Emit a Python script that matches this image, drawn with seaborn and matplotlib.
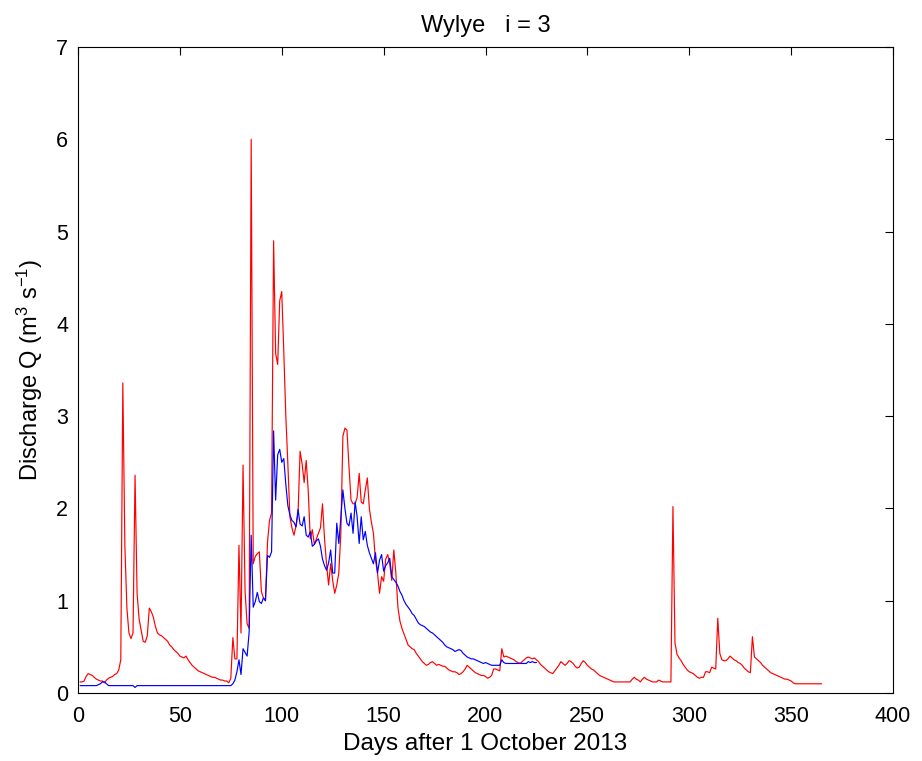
import numpy as np
import pandas as pd
import matplotlib
matplotlib.use("Agg")
import matplotlib.pyplot as plt
import seaborn as sns

# ---------------- data ----------------
title = "Wylye   i = 3"
xlabel = "Days after 1 October 2013"
ylabel = "Discharge Q (m$^3$ s$^{-1}$)"

red_q = [
    0.12, 0.12, 0.13, 0.18, 0.21, 0.20, 0.19, 0.17, 0.15, 0.14,
    0.13, 0.13, 0.11, 0.14, 0.16, 0.17, 0.18, 0.20, 0.21, 0.25,
    0.36, 3.36, 1.60, 0.92, 0.65, 0.59, 0.65, 2.36, 1.08, 0.80,
    0.68, 0.56, 0.55, 0.62, 0.92, 0.88, 0.82, 0.72, 0.65, 0.63,
    0.62, 0.60, 0.58, 0.56, 0.52, 0.50, 0.47, 0.45, 0.43, 0.40,
    0.39, 0.38, 0.40, 0.36, 0.33, 0.30, 0.28, 0.26, 0.24, 0.23,
    0.22, 0.21, 0.20, 0.19, 0.18, 0.17, 0.17, 0.16, 0.15, 0.14,
    0.14, 0.13, 0.13, 0.11, 0.16, 0.60, 0.37, 0.37, 1.60, 0.65,
    2.47, 1.10, 0.75, 0.70, 6.00, 1.40, 1.48, 1.51, 1.53, 1.10,
    1.03, 1.00, 1.63, 1.87, 1.95, 4.90, 3.68, 3.56, 4.25, 4.35,
    3.70, 3.00, 2.48, 1.91, 1.79, 1.71, 1.81, 1.95, 2.62, 2.48,
    2.28, 2.52, 2.19, 1.67, 1.77, 1.61, 1.67, 1.73, 1.79, 2.05,
    1.67, 1.39, 1.17, 1.40, 1.22, 1.08, 1.17, 1.30, 1.73, 2.78,
    2.87, 2.85, 2.45, 2.09, 2.05, 2.05, 2.12, 2.38, 2.07, 2.05,
    2.20, 2.33, 2.00, 1.85, 1.73, 1.44, 1.30, 1.08, 1.26, 1.21,
    1.45, 1.50, 1.40, 1.22, 1.55, 1.30, 0.93, 0.78, 0.70, 0.64,
    0.58, 0.52, 0.50, 0.48, 0.47, 0.43, 0.40, 0.37, 0.34, 0.32,
    0.30, 0.31, 0.33, 0.34, 0.32, 0.30, 0.31, 0.30, 0.29, 0.29,
    0.27, 0.25, 0.24, 0.23, 0.23, 0.22, 0.20, 0.21, 0.23, 0.26,
    0.30, 0.28, 0.26, 0.24, 0.22, 0.21, 0.20, 0.19, 0.19, 0.18,
    0.16, 0.17, 0.19, 0.26, 0.26, 0.25, 0.24, 0.48, 0.39, 0.40,
    0.39, 0.38, 0.37, 0.36, 0.34, 0.33, 0.32, 0.34, 0.36, 0.38,
    0.39, 0.38, 0.37, 0.38, 0.36, 0.34, 0.31, 0.29, 0.27, 0.25,
    0.23, 0.22, 0.21, 0.24, 0.27, 0.30, 0.34, 0.32, 0.30, 0.32,
    0.35, 0.34, 0.32, 0.29, 0.27, 0.28, 0.32, 0.35, 0.33, 0.30,
    0.28, 0.26, 0.25, 0.23, 0.21, 0.19, 0.18, 0.17, 0.16, 0.15,
    0.14, 0.13, 0.12, 0.12, 0.12, 0.12, 0.12, 0.12, 0.12, 0.12,
    0.12, 0.15, 0.17, 0.15, 0.14, 0.12, 0.15, 0.17, 0.15, 0.14,
    0.13, 0.12, 0.12, 0.12, 0.14, 0.13, 0.12, 0.12, 0.12, 0.12,
    0.12, 2.02, 0.54, 0.42, 0.38, 0.35, 0.31, 0.28, 0.25, 0.23,
    0.22, 0.21, 0.19, 0.17, 0.16, 0.17, 0.17, 0.23, 0.23, 0.22,
    0.28, 0.27, 0.26, 0.81, 0.43, 0.36, 0.35, 0.35, 0.37, 0.40,
    0.38, 0.36, 0.35, 0.33, 0.32, 0.30, 0.27, 0.25, 0.23, 0.22,
    0.61, 0.39, 0.37, 0.35, 0.33, 0.30, 0.28, 0.26, 0.24, 0.22,
    0.21, 0.20, 0.19, 0.18, 0.17, 0.16, 0.15, 0.15, 0.14, 0.13,
    0.11, 0.10, 0.10, 0.10, 0.10, 0.10, 0.10, 0.10, 0.10, 0.10,
    0.10, 0.10, 0.10, 0.10, 0.10,
]

blue_q = [
    0.08, 0.08, 0.08, 0.08, 0.08, 0.08, 0.08, 0.08, 0.08, 0.09,
    0.10, 0.12, 0.12, 0.10, 0.08, 0.08, 0.08, 0.08, 0.08, 0.08,
    0.08, 0.08, 0.08, 0.08, 0.08, 0.08, 0.08, 0.06, 0.08, 0.08,
    0.08, 0.08, 0.08, 0.08, 0.08, 0.08, 0.08, 0.08, 0.08, 0.08,
    0.08, 0.08, 0.08, 0.08, 0.08, 0.08, 0.08, 0.08, 0.08, 0.08,
    0.08, 0.08, 0.08, 0.08, 0.08, 0.08, 0.08, 0.08, 0.08, 0.08,
    0.08, 0.08, 0.08, 0.08, 0.08, 0.08, 0.08, 0.08, 0.08, 0.08,
    0.08, 0.08, 0.08, 0.08, 0.08, 0.10, 0.14, 0.23, 0.36, 0.20,
    0.48, 0.44, 0.40, 0.66, 1.71, 0.93, 0.99, 1.09, 0.99, 0.97,
    1.03, 1.00, 1.49, 1.47, 1.53, 2.84, 2.09, 2.58, 2.64, 2.50,
    2.54, 2.26, 2.03, 1.93, 1.87, 1.85, 1.80, 1.99, 1.83, 1.81,
    1.91, 1.71, 1.69, 1.75, 1.59, 1.61, 1.65, 1.67, 1.59, 1.45,
    1.38, 1.33, 1.41, 1.55, 1.30, 1.30, 1.84, 1.62, 1.90, 2.20,
    2.00, 1.84, 1.81, 1.95, 1.73, 2.07, 1.91, 1.62, 1.91, 1.66,
    1.75, 1.60, 1.52, 1.46, 1.40, 1.52, 1.30, 1.44, 1.50, 1.32,
    1.38, 1.41, 1.46, 1.26, 1.23, 1.20, 1.16, 1.10, 1.06, 1.00,
    0.96, 0.93, 0.90, 0.86, 0.84, 0.80, 0.76, 0.74, 0.73, 0.72,
    0.70, 0.68, 0.66, 0.65, 0.63, 0.61, 0.59, 0.57, 0.55, 0.52,
    0.50, 0.49, 0.48, 0.47, 0.45, 0.46, 0.47, 0.46, 0.43, 0.41,
    0.39, 0.38, 0.37, 0.37, 0.36, 0.35, 0.34, 0.33, 0.32, 0.33,
    0.32, 0.31, 0.30, 0.30, 0.30, 0.30, 0.30, 0.36, 0.33, 0.32,
    0.32, 0.32, 0.32, 0.32, 0.32, 0.32, 0.32, 0.32, 0.32, 0.32,
    0.34, 0.33, 0.34, 0.33, 0.33,
]

red_days = np.arange(1, len(red_q) + 1)
blue_days = np.arange(1, len(blue_q) + 1)

x_ticks = [0, 50, 100, 150, 200, 250, 300, 350, 400]
y_ticks = [0, 1, 2, 3, 4, 5, 6, 7]

# ---------------- style ----------------
sns.set_theme(style="white")
plt.rcParams["font.family"] = ["Liberation Sans", "DejaVu Sans"]
plt.rcParams["mathtext.default"] = "regular"

fig = plt.figure(figsize=(9.22, 7.61), dpi=100)
ax = fig.add_axes([78 / 922, 1 - 693 / 761, (893 - 78) / 922, (693 - 47) / 761])

df_red = pd.DataFrame({"day": red_days, "q": red_q})
df_blue = pd.DataFrame({"day": blue_days, "q": blue_q})

sns.lineplot(data=df_red, x="day", y="q", color="#ff0000", linewidth=0.85, ax=ax,
             estimator=None, sort=False)
sns.lineplot(data=df_blue, x="day", y="q", color="#0000ff", linewidth=0.85, ax=ax,
             estimator=None, sort=False)

ax.set_xlim(0, 400)
ax.set_ylim(0, 7)
ax.set_xticks(x_ticks)
ax.set_yticks(y_ticks)
ax.set_xticklabels([str(t) for t in x_ticks])
ax.set_yticklabels([str(t) for t in y_ticks])

ax.tick_params(direction="in", top=True, right=True, length=6, width=0.8,
               colors="black", labelsize=15.5, pad=7)
ax.tick_params(axis="x", pad=9)
for s in ax.spines.values():
    s.set_color("black")
    s.set_linewidth(0.8)
    s.set_visible(True)

ax.set_xlabel(xlabel, fontsize=17.5, color="black", labelpad=5)
ax.set_ylabel(ylabel, fontsize=17, color="black", labelpad=8)
ax.set_title(title, fontsize=17, color="black", pad=11)

fig.savefig("out.png", dpi=100, facecolor="white")
